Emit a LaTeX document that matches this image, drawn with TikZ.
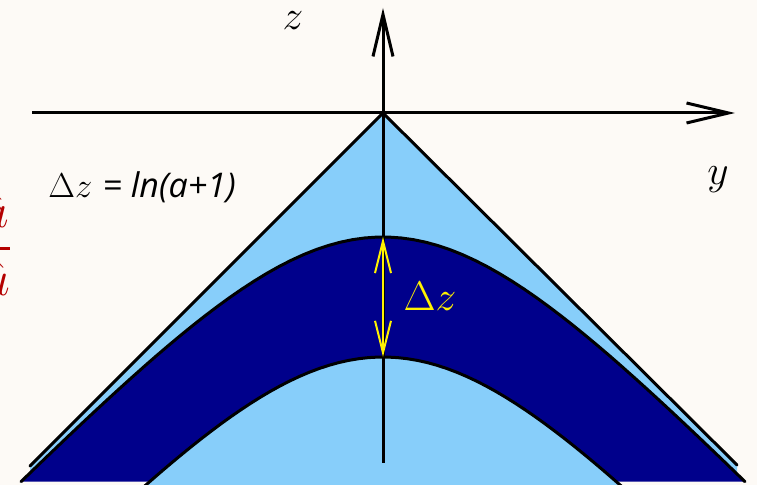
\documentclass[tikz,border=0pt]{standalone}
\usepackage{amsmath,amssymb}
\usepackage{fontspec}
\newfontfamily\formfont{Open Sans}
\usetikzlibrary{arrows.meta,calc,positioning}
\definecolor{paper}{RGB}{253,250,246}
\definecolor{skyfill}{RGB}{135,206,250}
\definecolor{bandfill}{RGB}{0,0,139}
\definecolor{ratiored}{RGB}{180,0,0}
\tikzset{
  axis/.style={line width=1.5pt,-{Straight Barb[length=21pt,width=10pt,line width=1.5pt]}},
  edge/.style={line width=1.5pt,line cap=round},
  gap/.style={line width=1pt,yellow,{Straight Barb[length=16pt,width=8pt,line width=1pt]}-{Straight Barb[length=16pt,width=8pt,line width=1pt]}},
  lbl/.style={inner sep=0pt,font=\fontsize{20}{22}\selectfont}
}

\begin{document}
\begin{tikzpicture}[x=0.5pt,y=-0.5pt]
  \fill[paper] (0,0) rectangle (757,485);
  \useasboundingbox (0,0) rectangle (757,485);

  \coordinate (O) at (383,113);
  \coordinate (bl) at (30,466);
  \coordinate (br) at (737,465);
  \coordinate (up) at (383,237);
  \coordinate (lo) at (383,357);

  % cone and band
  \fill[skyfill] (O)--(bl)--(30,481)--(737,481)--(br)--cycle;
  \fill[bandfill] plot[domain=-362:362,samples=60] ({383+\x},{237+173*ln(cosh(\x/173))}) --cycle;
  \fill[skyfill] plot[domain=-240:240,samples=50] ({383+\x},{357+173*ln(cosh(\x/173))}) --cycle;
  \draw[edge] plot[domain=-362:362,samples=60] ({383+\x},{237+173*ln(cosh(\x/173))});
  \draw[edge] plot[domain=-240:240,samples=50] ({383+\x},{357+173*ln(cosh(\x/173))});
  \draw[edge] (bl)--(O)--(br);

  % axes
  \draw[axis] (32,113)--(735,113);
  \draw[axis] (383,463)--(383,8);
  \draw[gap] (up)--(lo);

  \node[lbl] (zlabel) at (293,21) {$z$};
  \node[lbl] (ylabel) at (718,180) {$y$};
  \node[lbl,text=yellow,font=\fontsize{20}{22}\selectfont] (dzlabel) at (430,296) {$\Delta z$};
  \node[inner sep=0pt,anchor=west,font=\fontsize{17}{19}\selectfont] (formula) at (48,187)
    {$\Delta z$ {\formfont\itshape = ln(a+1)}};
  \node[inner sep=0pt,anchor=base east,text=ratiored,font=\fontsize{30}{32}\selectfont] (ratio) at (13,261)
    {$\dfrac{\hat{a}}{\hat{u}}$};
\end{tikzpicture}
\end{document}
